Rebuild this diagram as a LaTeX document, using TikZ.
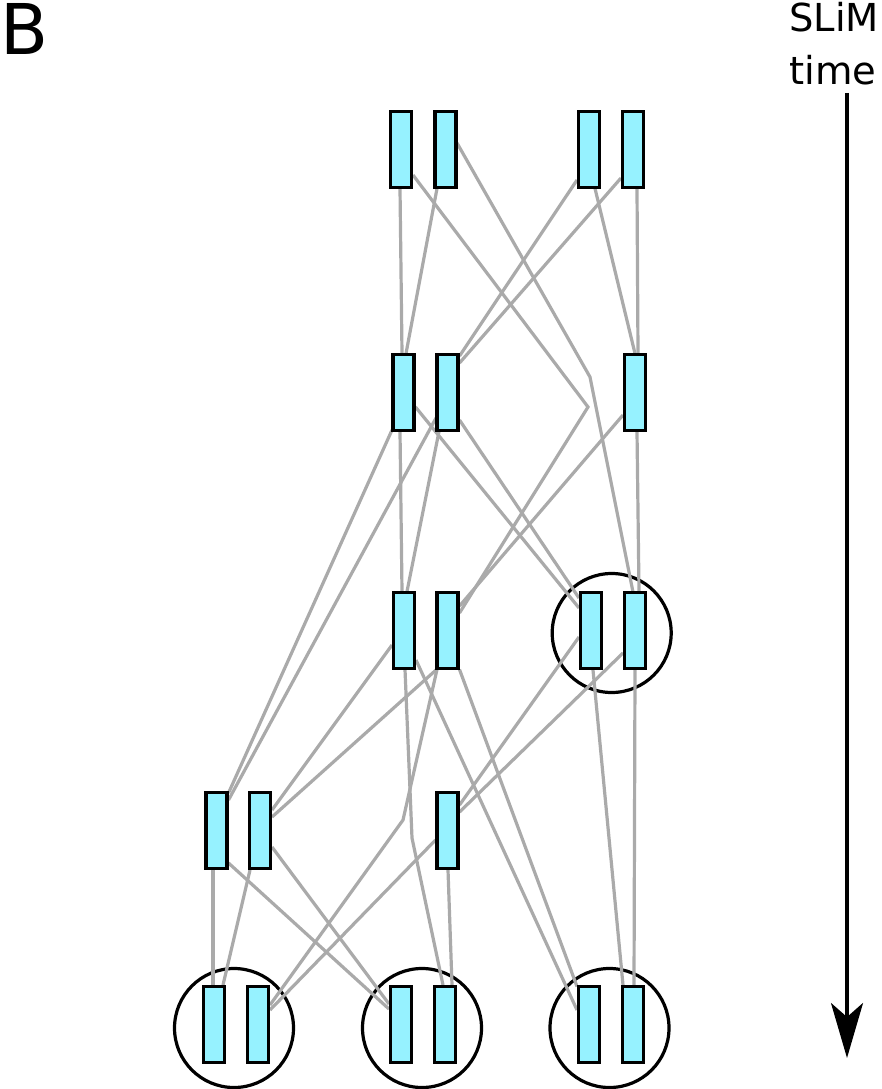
\documentclass[tikz,border=0pt]{standalone}
\usepackage{fontspec}
\setmainfont{DejaVu Sans}
\usetikzlibrary{calc,arrows.meta}
\definecolor{boxfill}{RGB}{150,242,255}
\definecolor{linegray}{RGB}{170,170,170}
\begin{document}
\begin{tikzpicture}[x=1pt,y=-1pt,
  genome/.style={draw=black,line width=3.2pt,fill=boxfill,rectangle,inner sep=0pt,
    minimum width=21pt,minimum height=76pt},
  ring/.style={draw=black,line width=3.2pt,circle,inner sep=0pt,minimum size=119pt},
  gl/.style={draw=linegray,line width=3.2pt},
  lbl/.style={inner sep=0pt,anchor=base west}]
\useasboundingbox (0,0) rectangle (882,1089);
% individuals (circles)
\node[ring] (rc) at (611.7,633) {};
\node[ring] (r1) at (234,1028) {};
\node[ring] (r2) at (422,1028) {};
\node[ring] (r3) at (609.5,1028) {};
% genome positions
\coordinate (A1) at (401,149.5);
\coordinate (A2) at (445.5,149.5);
\coordinate (A3) at (589,149.5);
\coordinate (A4) at (633,149.5);
\coordinate (B1) at (403.5,392.5);
\coordinate (B2) at (447.5,392.5);
\coordinate (B3) at (635,392.5);
\coordinate (C1) at (404,630.5);
\coordinate (C2) at (447.5,630.5);
\coordinate (C3) at (591,630.5);
\coordinate (C4) at (635,630.5);
\coordinate (D1) at (216.5,830.5);
\coordinate (D2) at (260,830.5);
\coordinate (D3) at (447.5,830.5);
\coordinate (E1) at (214,1024.5);
\coordinate (E2) at (258,1024.5);
\coordinate (E3) at (401,1024.5);
\coordinate (E4) at (445,1024.5);
\coordinate (E5) at (589,1024.5);
\coordinate (E6) at (633,1024.5);
% bends of lines that skip a generation
\coordinate (k1) at (588,407);
\coordinate (k2) at (590,377);
\coordinate (k3) at (412,838);
\coordinate (k4) at (403,820);
% connectors
\draw[gl] ($(A1)+(-1,39)$) -- ($(B1)+(-1.5,-39)$);
\draw[gl] ($(A2)+(-8.5,39)$) -- ($(B1)+(2.5,-39)$);
\draw[gl] ($(A1)+(12,25.5)$) -- (k1) -- ($(C2)+(12,-17.5)$);
\draw[gl] ($(A2)+(11.5,-6.5)$) -- (k2) -- ($(C4)+(-2,-38.5)$);
\draw[gl] ($(A3)+(-12,30.5)$) -- ($(B2)+(12,-36.5)$);
\draw[gl] ($(A4)+(-12,28.5)$) -- ($(B2)+(12,-29.5)$);
\draw[gl] ($(A3)+(6,39)$) -- ($(B3)+(0,-39)$);
\draw[gl] ($(A4)+(4,39)$) -- ($(B3)+(3,-39)$);
\draw[gl] ($(B1)+(-3.5,39)$) -- ($(C1)+(-2,-39)$);
\draw[gl] ($(B2)+(-8.5,39)$) -- ($(C1)+(3,-39)$);
\draw[gl] ($(B1)+(12,14.5)$) -- ($(C3)+(-12,-22.5)$);
\draw[gl] ($(B2)+(12,27.5)$) -- ($(C3)+(-12,-32.5)$);
\draw[gl] ($(B3)+(2,39)$) -- ($(C4)+(4,-39)$);
\draw[gl] ($(B3)+(-12,22.5)$) -- ($(C2)+(12,-24.5)$);
\draw[gl] ($(B1)+(-11.5,37.5)$) -- ($(D1)+(12,-37.5)$);
\draw[gl] ($(B2)+(-11.5,25.5)$) -- ($(D1)+(12,-30.5)$);
\draw[gl] ($(C1)+(-12,14.5)$) -- ($(D2)+(12,-20.5)$);
\draw[gl] ($(C2)+(-11.5,39.5)$) -- ($(D2)+(12,-13.5)$);
\draw[gl] ($(C1)+(1,39)$) -- (k3) -- ($(E4)+(-2,-39.5)$);
\draw[gl] ($(C2)+(-10.5,39)$) -- (k4) -- ($(E2)+(12,-19.5)$);
\draw[gl] ($(C1)+(12,29.5)$) -- ($(E5)+(-12,-14.5)$);
\draw[gl] ($(C2)+(12,39)$) -- ($(E5)+(-12,-38)$);
\draw[gl] ($(C3)+(-12,6.5)$) -- ($(D3)+(12,-25.5)$);
\draw[gl] ($(C4)+(-12,22.5)$) -- ($(D3)+(12,-18.5)$);
\draw[gl] ($(C3)+(2,39.5)$) -- ($(E6)+(-10,-39.5)$);
\draw[gl] ($(C4)+(0,39.5)$) -- ($(E6)+(1,-39.5)$);
\draw[gl] ($(D1)+(-3.5,39.5)$) -- ($(E1)+(-1,-39.5)$);
\draw[gl] ($(D2)+(-10,39.5)$) -- ($(E1)+(9,-39.5)$);
\draw[gl] ($(D1)+(12,32.5)$) -- ($(E3)+(-12,-15.5)$);
\draw[gl] ($(D2)+(12,16.5)$) -- ($(E3)+(-12,-20.5)$);
\draw[gl] ($(D3)+(0.5,39.5)$) -- ($(E4)+(7,-39.5)$);
\draw[gl] ($(D3)+(-12,9.5)$) -- ($(E2)+(12,-14.5)$);
% genomes
\foreach \g in {A1,A2,A3,A4,B1,B2,B3,C1,C2,C3,C4,D1,D2,D3,E1,E2,E3,E4,E5,E6}
  \node[genome] (n\g) at (\g) {};
% labels and time arrow
\node[lbl,font=\fontsize{70}{80}\selectfont] (panel) at (0,55) {B};
\node[lbl,font=\fontsize{38.5}{44}\selectfont] (t1) at (789,32) {SLiM};
\node[lbl,font=\fontsize{38.5}{44}\selectfont] (t2) at (789,85) {time};
\coordinate (ts) at (847,93);
\coordinate (te) at (847,1058);
\draw[line width=3.2pt,-{Stealth[length=55pt,width=32pt,inset=14pt]}] (ts) -- (te);
\end{tikzpicture}
\end{document}
